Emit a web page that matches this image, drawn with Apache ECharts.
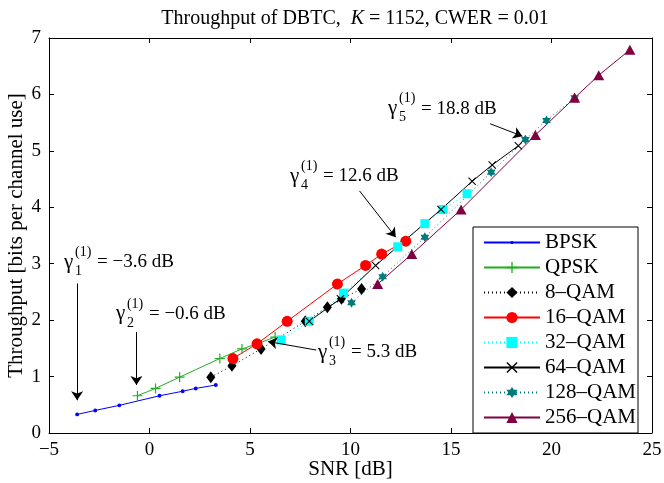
<!DOCTYPE html>
<html>
<head>
<meta charset="utf-8">
<script src="https://cdn.jsdelivr.net/npm/echarts@6/dist/echarts.min.js"></script>
<style>
  html, body { margin: 0; padding: 0; background: #fff; }
  #chart { width: 664px; height: 483px; }
</style>
</head>
<body>
<div id="chart"></div>
<script>
// Throughput of DBTC vs SNR, one curve per modulation.

const SERIF = "'Liberation Serif', 'DejaVu Serif', serif";

const bpskX = [-3.6, -2.7, -1.5, 0.5, 1.65, 2.3, 3.3];
const bpskY = [0.33, 0.40, 0.49, 0.66, 0.74, 0.79, 0.85];
const qpskX = [-0.6, 0.3, 1.5, 3.5, 4.6, 5.35, 6.25];
const qpskY = [0.66, 0.79, 0.99, 1.32, 1.49, 1.58, 1.70];
const qam8X = [3.05, 4.1, 5.55, 7.75, 8.85, 9.55, 10.55];
const qam8Y = [0.99, 1.19, 1.49, 1.98, 2.23, 2.38, 2.55];
const qam16X = [4.15, 5.35, 6.85, 9.35, 10.75, 11.55, 12.75];
const qam16Y = [1.32, 1.58, 1.98, 2.64, 2.97, 3.17, 3.40];
const qam32X = [6.55, 7.95, 9.65, 12.35, 13.7, 14.6, 15.8];
const qam32Y = [1.65, 1.98, 2.48, 3.30, 3.71, 3.96, 4.24];
const qam64X = [7.95, 9.5, 11.25, 14.5, 16.05, 17.05, 18.35];
const qam64Y = [1.98, 2.38, 2.97, 3.96, 4.46, 4.75, 5.09];
const qam128X = [10.05, 11.6, 13.7, 17.0, 18.7, 19.75, 21.15];
const qam128Y = [2.31, 2.77, 3.47, 4.62, 5.20, 5.54, 5.94];
const qam256X = [11.35, 13.05, 15.5, 19.2, 21.15, 22.35, 23.9];
const qam256Y = [2.64, 3.17, 3.96, 5.28, 5.94, 6.34, 6.79];

const names = ["BPSK", "QPSK", "8\u2013QAM", "16\u2013QAM", "32\u2013QAM", "64\u2013QAM", "128\u2013QAM", "256\u2013QAM"];

// annotation: gamma index, value text, label anchor, arrow start/end (data units)
const annoSub = ["1", "2", "3", "4", "5"];
const annoText = ["= \u22123.6 dB", "= \u22120.6 dB", "= 5.3 dB", "= 12.6 dB", "= 18.8 dB"];
const annoAt = [[-4.25, 3.03], [-1.67, 2.11], [8.38, 1.43], [6.99, 4.55], [11.87, 5.75]];
const arrowFrom = [[-3.6, 2.65], [-0.65, 1.79], [8.3, 1.47], [10.45, 4.29], [16.95, 5.48]];
const arrowTo = [[-3.6, 0.58], [-0.65, 0.85], [5.9, 1.62], [12.25, 3.47], [18.55, 5.26]];

// small dot padded with empty corners so the legend icon stays small too
const DOT = "path://M0,0L0.01,0M10,10L9.99,10M3.6,5A1.4,1.4 0 1,0 6.4,5A1.4,1.4 0 1,0 3.6,5Z";
const PLUS = "path://M4.4,0H5.6V4.4H10V5.6H5.6V10H4.4V5.6H0V4.4H4.4Z";
const CROSS = "path://M0,0.9L0.9,0L5,4.1L9.1,0L10,0.9L5.9,5L10,9.1L9.1,10L5,5.9L0.9,10L0,9.1L4.1,5Z";
const STAR = "path://M50,0L64.43,25L93.3,25L78.87,50L93.3,75L64.43,75L50,100L35.57,75L6.7,75L21.13,50L6.7,25L35.57,25Z";

const zip = (xs, ys) => xs.map((x, i) => [x, ys[i]]);

function curve(name, xs, ys, color, symbol, size, dash) {
  return {
    name, type: "line", data: zip(xs, ys),
    symbol, symbolSize: size, symbolKeepAspect: true, showSymbol: true,
    lineStyle: { color, width: 1, type: dash || "solid" },
    itemStyle: { color, borderColor: color, borderWidth: 0 },
    emphasis: { disabled: true }, animation: false, z: 3,
  };
}

const series = [
  curve(names[0], bpskX, bpskY, "#0000ff", DOT, 14),
  curve(names[1], qpskX, qpskY, "#1fae1f", PLUS, 10),
  curve(names[2], qam8X, qam8Y, "#000000", "diamond", [9, 12], [1, 3]),
  curve(names[3], qam16X, qam16Y, "#ff0000", "circle", 11),
  curve(names[4], qam32X, qam32Y, "#00ffff", "rect", 9, [1, 3]),
  curve(names[5], qam64X, qam64Y, "#000000", CROSS, 8),
  curve(names[6], qam128X, qam128Y, "#007b7b", STAR, 10, [1, 3]),
  curve(names[7], qam256X, qam256Y, "#800040", "triangle", [11, 10]),
];

// arrows ride on the first series as mark lines
series[0].markLine = {
  silent: true, animation: false,
  symbol: ["none", "arrow"], symbolSize: 9,
  label: { show: false },
  lineStyle: { color: "#000", width: 1, type: "solid" },
  emphasis: { disabled: true },
  data: arrowFrom.map((f, i) => [{ coord: f }, { coord: arrowTo[i] }]),
};

const axisText = { color: "#000", fontFamily: SERIF, fontSize: 19 };
const nameText = { color: "#000", fontFamily: SERIF, fontSize: 21 };
const fmt = v => (v < 0 ? "\u2212" + Math.abs(v) : String(v));

const chart = echarts.init(document.getElementById("chart"), null, { renderer: "canvas" });
chart.setOption({
  backgroundColor: "#fff",
  animation: false,
  title: {
    text: "{n|Throughput of DBTC,  }{i|K}{n| = 1152, CWER = 0.01}",
    left: 350, top: 4, textAlign: "center",
    textStyle: {
      fontWeight: "normal",
      rich: {
        n: { fontFamily: SERIF, fontSize: 20, fontWeight: "normal", color: "#000" },
        i: { fontFamily: SERIF, fontSize: 20, fontWeight: "normal", fontStyle: "italic", color: "#000" },
      },
    },
  },
  grid: { left: 49, right: 12, top: 38, bottom: 50, containLabel: false, outerBoundsMode: "none" },
  legend: {
    orient: "vertical", left: 473, top: 227,
    backgroundColor: "#fff", borderColor: "#000", borderWidth: 1,
    padding: [5, 2, 5, 10], itemGap: 4, itemWidth: 56, itemHeight: 14,
    textStyle: { color: "#000", fontFamily: SERIF, fontSize: 21 },
    data: names,
  },
  xAxis: [
    {
      type: "value", min: -5, max: 25, interval: 5,
      name: "SNR [dB]", nameLocation: "middle", nameGap: 26, nameMoveOverlap: false,
      nameTextStyle: nameText,
      axisLine: { show: true, onZero: false, lineStyle: { color: "#000", width: 1 } },
      axisTick: { inside: true, length: 5, lineStyle: { color: "#000" } },
      axisLabel: { ...axisText, margin: 8, formatter: fmt },
      splitLine: { show: false },
    },
    {
      type: "value", position: "top", min: -5, max: 25, interval: 5,
      axisLine: { show: true, onZero: false, lineStyle: { color: "#000", width: 1 } },
      axisTick: { inside: true, length: 5, lineStyle: { color: "#000" } },
      axisLabel: { show: false }, splitLine: { show: false },
    },
  ],
  yAxis: [
    {
      type: "value", min: 0, max: 7, interval: 1,
      name: "Throughput [bits per channel use]", nameLocation: "middle", nameGap: 22,
      nameMoveOverlap: false, nameTextStyle: nameText,
      axisLine: { show: true, onZero: false, lineStyle: { color: "#000", width: 1 } },
      axisTick: { inside: true, length: 5, lineStyle: { color: "#000" } },
      axisLabel: { ...axisText, margin: 8 },
      splitLine: { show: false },
    },
    {
      type: "value", position: "right", min: 0, max: 7, interval: 1,
      axisLine: { show: true, onZero: false, lineStyle: { color: "#000", width: 1 } },
      axisTick: { inside: true, length: 5, lineStyle: { color: "#000" } },
      axisLabel: { show: false }, splitLine: { show: false },
    },
  ],
  series,
});

// gamma labels placed through the chart's own scale
const graphic = [];
annoAt.forEach((pt, i) => {
  const [px, py] = chart.convertToPixel({ xAxisIndex: 0, yAxisIndex: 0 }, pt);
  const t = (x, y, text, size) => ({
    type: "text", x, y, z: 100, silent: true,
    style: { text, font: `${size}px ${SERIF}`, fill: "#000", verticalAlign: "middle", align: "left" },
  });
  graphic.push(t(px, py, "\u03b3", 21));
  graphic.push(t(px + 11, py - 10, "(1)", 14));
  graphic.push(t(px + 11, py + 9, annoSub[i], 14));
  graphic.push(t(px + 33, py, annoText[i], 19));
});
chart.setOption({ graphic });
</script>
</body>
</html>
